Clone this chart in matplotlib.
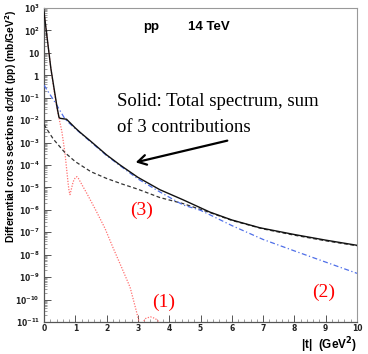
import numpy as np
import matplotlib
matplotlib.use("Agg")
import matplotlib.pyplot as plt
from matplotlib.ticker import FixedLocator, FuncFormatter, LogLocator, NullFormatter, MultipleLocator

# ---- data (values are log10 of dsigma/dt in mb/GeV^2) ----
t_total = [0.0, 0.22, 0.42, 0.48, 0.52, 0.72, 1.0, 1.15, 1.5, 2.0, 2.43, 3.0, 3.7, 4.44, 5.3, 6.0, 6.9, 8.0, 9.0, 10.0]
lg_total = [2.82, 0.3, -1.45, -1.88, -1.92, -1.96, -2.35, -2.54, -2.95, -3.55, -4.0, -4.55, -5.1, -5.55, -6.1, -6.45, -6.8, -7.1, -7.35, -7.58]

t_c1 = [0.0, 0.22, 0.32, 0.42, 0.5, 0.57, 0.67, 0.77, 0.8, 0.83, 0.87, 0.93, 1.0, 1.05, 1.1, 1.2, 1.37, 1.63, 1.95, 2.2, 2.49, 2.75, 2.94, 3.04, 3.1, 3.17, 3.25, 3.4, 3.55, 3.68, 3.8]
lg_c1 = [2.82, 0.3, -0.66, -1.5, -2.05, -2.5, -3.47, -4.81, -5.15, -5.32, -5.1, -4.75, -4.56, -4.52, -4.6, -4.85, -5.27, -5.95, -6.83, -7.67, -8.6, -9.45, -10.46, -11.0, -11.2, -11.0, -10.84, -10.77, -10.84, -11.0, -11.3]

t_c2 = [0.0, 0.35, 0.68, 1.0, 1.5, 2.0, 2.43, 3.0, 3.7, 4.44, 5.0, 5.3, 6.0, 7.0, 8.0, 9.0, 10.0]
lg_c2 = [-0.44, -1.2, -1.97, -2.38, -2.98, -3.58, -4.03, -4.62, -5.2, -5.78, -6.02, -6.22, -6.7, -7.32, -7.83, -8.33, -8.83]

t_c3 = [0.0, 0.3, 0.67, 1.0, 1.5, 2.0, 2.5, 3.0, 3.7, 4.44, 5.3, 6.0, 7.0, 8.0, 9.0, 10.0]
lg_c3 = [-2.2, -2.85, -3.45, -3.85, -4.3, -4.6, -4.85, -5.08, -5.45, -5.72, -6.12, -6.47, -6.85, -7.13, -7.38, -7.6]

x_ticks = list(range(0, 11))
y_exponents = list(range(-11, 4))

W, H = 368, 354
fig = plt.figure(figsize=(W / 100, H / 100), dpi=100)
ax = fig.add_axes([44 / W, 1 - 322 / H, (357 - 44) / W, (322 - 8) / H])

to_val = lambda lg: 10.0 ** np.asarray(lg)

ax.plot(t_c1, to_val(lg_c1), color="#ff6f6f", lw=0.9, ls=(0, (1, 1.2)), zorder=2)
ax.plot(t_c3, to_val(lg_c3), color="#333333", lw=0.9, ls=(0, (3, 2)), zorder=3)
ax.plot(t_c2, to_val(lg_c2), color="#4f6fe8", lw=0.9, ls=(0, (4, 2, 1, 2)), zorder=4)
ax.plot(t_total, to_val(lg_total), color="#111111", lw=1.0, zorder=5)

ax.set_yscale("log")
ax.set_xlim(0, 10)
ax.set_ylim(1e-11, 1e3)

ax.xaxis.set_major_locator(FixedLocator(x_ticks))
ax.xaxis.set_minor_locator(MultipleLocator(0.2))
ax.yaxis.set_major_locator(FixedLocator([10.0 ** e for e in y_exponents]))
ax.yaxis.set_minor_locator(LogLocator(base=10, subs=np.arange(2, 10), numticks=100))
ax.yaxis.set_minor_formatter(NullFormatter())

def yfmt(v, pos):
    e = int(round(np.log10(v)))
    if e == 0:
        return r"$\mathbf{1}$"
    if e == 1:
        return r"$\mathbf{10}$"
    return r"$\mathbf{10^{%d}}$" % e

ax.yaxis.set_major_formatter(FuncFormatter(yfmt))
ax.xaxis.set_major_formatter(FuncFormatter(lambda v, p: "%d" % v))

ax.tick_params(axis="both", which="major", direction="in", length=5, width=0.7,
               labelsize=5.5, colors="#555555", labelcolor="#222222", pad=3)
ax.tick_params(axis="x", which="major", pad=1.5)
ax.tick_params(axis="both", which="minor", direction="in", length=2.5, width=0.5, colors="#777777")
for lab in ax.get_xticklabels():
    lab.set_fontweight("bold")

for side in ["left", "bottom"]:
    ax.spines[side].set_color("#555555")
    ax.spines[side].set_linewidth(0.9)
for side in ["top", "right"]:
    ax.spines[side].set_color("#999999")
    ax.spines[side].set_linewidth(0.8)

sans = "Liberation Sans"
serif = "Liberation Serif"

fig.text(11 / W, 1 - 9 / H, r"Differential cross sections d$\sigma$/dt (pp) (mb/GeV$^{\mathbf{2}}$)",
         rotation=90, ha="center", va="top", fontsize=7.4, fontweight="bold", family=sans)
fig.text(357 / W, 1 - 345 / H, r"|t|  (GeV$^{\mathbf{2}}$)", ha="right", va="center",
         fontsize=8.5, fontweight="bold", family=sans)
fig.text(143 / W, 1 - 27 / H, "pp", ha="left", va="center", fontsize=9.5,
         fontweight="bold", family=sans)
fig.text(188 / W, 1 - 27 / H, "14 TeV", ha="left", va="center", fontsize=9.5,
         fontweight="bold", family=sans)

fig.text(117 / W, 1 - 102 / H, "Solid: Total spectrum, sum", ha="left", va="center",
         fontsize=13.5, family=serif)
fig.text(117 / W, 1 - 128 / H, "of 3 contributions", ha="left", va="center",
         fontsize=13.5, family=serif)

ax.annotate("", xy=(133 / W, 1 - 163 / H), xycoords="figure fraction",
            xytext=(230 / W, 1 - 140 / H), textcoords="figure fraction",
            arrowprops=dict(arrowstyle="->,head_length=0.6,head_width=0.35", color="black", lw=1.6))

fig.text(142 / W, 1 - 210 / H, "(3)", color="red", ha="center", va="center", fontsize=14, family=serif)
fig.text(164 / W, 1 - 302 / H, "(1)", color="red", ha="center", va="center", fontsize=14, family=serif)
fig.text(324 / W, 1 - 292 / H, "(2)", color="red", ha="center", va="center", fontsize=14, family=serif)

fig.savefig("out.png", dpi=100)
